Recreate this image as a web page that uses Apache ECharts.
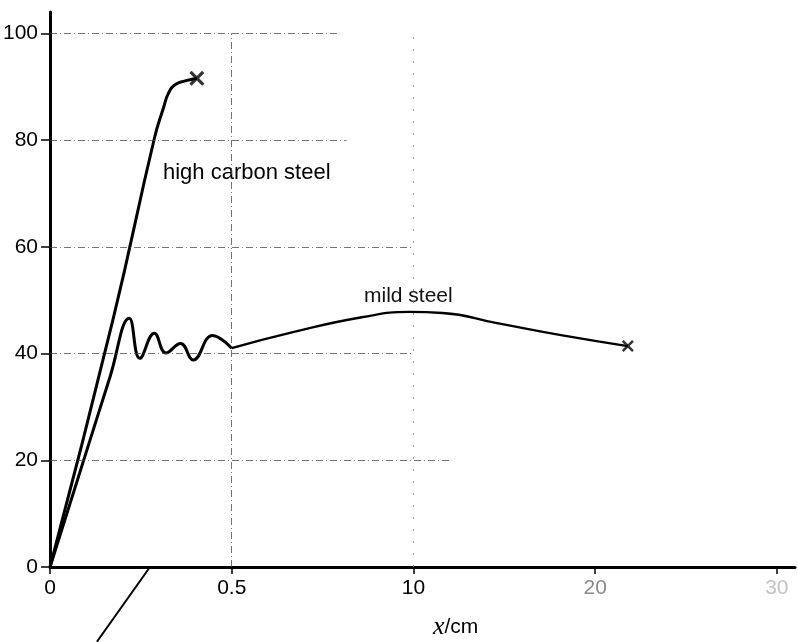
<!DOCTYPE html>
<html><head><meta charset="utf-8">
<script src="https://cdn.jsdelivr.net/npm/echarts@6/dist/echarts.min.js"></script>
<style>html,body{margin:0;padding:0;background:#fff}#c{width:798px;height:642px}</style>
</head><body><div id="c"></div>
<script>
// ---- data ----
const xTickValues = [0, 0.5, 10, 20, 30];          // broken x scale (cm)
const xTickLabels = ['0', '0.5', '10', '20', '30'];
const yTickValues = [0, 20, 40, 60, 80, 100];
const highCarbonX = [0, 0.173, 0.287, 0.312, 0.326, 0.345, 0.372, 0.404];
const highCarbonY = [0, 46.3, 80.3, 86.0, 88.8, 90.4, 91.1, 91.6];
const mildX = [0, 0.165, 0.218, 0.247, 0.287, 0.319, 0.359, 0.394, 0.447, 0.5, 3.7, 7.3, 9.8, 11.6, 14.6, 18.2, 21.8];
const mildY = [0, 35.6, 46.6, 39.1, 43.8, 40.1, 41.9, 38.8, 43.4, 41.0, 44.0, 46.8, 47.8, 47.6, 45.7, 43.4, 41.4];
const seriesNames = ['high carbon steel', 'mild steel'];
const axisTitle = ['x', '/cm'];

// piecewise axis scale: each labelled interval takes one unit
function toPos(v) {
  const n = xTickValues.length;
  for (let i = 0; i < n - 1; i++) {
    const a = xTickValues[i], b = xTickValues[i + 1];
    if (v <= b || i === n - 2) return i + (v - a) / (b - a);
  }
}
const pts = (xs, ys) => xs.map((x, i) => [toPos(x), ys[i]]);
const hc = pts(highCarbonX, highCarbonY);
const mild = pts(mildX, mildY);
const split = mildX.indexOf(0.5);
const mildOsc = mild.slice(0, split + 1);
const mildTail = mild.slice(split);

const FONT = '"Liberation Sans", Arial, sans-serif';
const crossPath = 'path://M0,1.5L1.5,0L5,3.5L8.5,0L10,1.5L6.5,5L10,8.5L8.5,10L5,6.5L1.5,10L0,8.5L3.5,5Z';
const gridStyle = { color: '#444', width: 1, type: [7, 3, 1, 3], opacity: 0.75 };
const hLine = (y, xEnd) => [{ coord: [0, y] }, { coord: [toPos(xEnd), y] }];

const chart = echarts.init(document.getElementById('c'), null, { renderer: 'canvas' });
chart.setOption({
  animation: false,
  backgroundColor: '#fff',
  grid: { left: 50, right: 3, top: 12, bottom: 75, containLabel: false },
  xAxis: {
    type: 'value', min: 0, max: 4.1,
    axisLine: { lineStyle: { color: '#000', width: 3 } },
    axisTick: { customValues: xTickValues.map((v, i) => i), length: 7, lineStyle: { color: '#000', width: 1.5 } },
    axisLabel: {
      customValues: xTickValues.map((v, i) => i), margin: 11, fontSize: 21, fontFamily: FONT, color: '#000',
      formatter: v => {
        const i = Math.round(v);
        const t = xTickLabels[i];
        return i === 3 ? '{g|' + t + '}' : i === 4 ? '{h|' + t + '}' : t;
      },
      rich: { g: { color: '#8a8a8a', fontSize: 21, fontFamily: FONT }, h: { color: '#c4c4c4', fontSize: 21, fontFamily: FONT } }
    },
    splitLine: { show: false }
  },
  yAxis: {
    type: 'value', min: 0, max: 104,
    axisLine: { lineStyle: { color: '#000', width: 3 } },
    axisTick: { customValues: yTickValues, length: 9, lineStyle: { color: '#000', width: 1.5 } },
    axisLabel: { customValues: yTickValues, margin: 12, fontSize: 21, fontFamily: FONT, color: '#000' },
    splitLine: { show: false }
  },
  series: [
    {
      type: 'line', name: 'grid', data: [], silent: true, z: 1,
      markLine: {
        silent: true, symbol: ['none', 'none'], label: { show: false },
        lineStyle: gridStyle,
        data: [
          hLine(100, 6), hLine(80, 6.5), hLine(60, 10), hLine(40, 10), hLine(20, 12),
          [{ coord: [toPos(0.5), 0] }, { coord: [toPos(0.5), 100] }],
          [{ coord: [toPos(10), 0], lineStyle: { color: '#777', type: [2, 10], width: 1 } },
           { coord: [toPos(10), 100] }]
        ]
      }
    },
    {
      type: 'line', name: seriesNames[0], data: hc, smooth: 0.5, showSymbol: false, z: 3,
      lineStyle: { color: '#000', width: 3 }
    },
    {
      type: 'line', name: seriesNames[1], data: mildOsc, smooth: 0.45, showSymbol: false, z: 3,
      lineStyle: { color: '#000', width: 3 }
    },
    {
      type: 'line', name: seriesNames[1] + ' tail', data: mildTail, smooth: 0.5, showSymbol: false, z: 3,
      lineStyle: { color: '#000', width: 2.3 }
    },
    {
      type: 'scatter', name: 'fracture', z: 4, symbol: crossPath,
      itemStyle: { color: '#000' },
      data: [
        { value: hc[hc.length - 1], symbolSize: 15 },
        { value: mild[mild.length - 1], symbolSize: 12 }
      ]
    }
  ]
});

// annotations placed after layout
const p = (cm, y) => chart.convertToPixel({ gridIndex: 0 }, [toPos(cm), y]);
const leadA = p(0.275, 0), leadB = p(0.129, -14);
chart.setOption({
  graphic: [
    { type: 'text', x: 163, y: 173, silent: true,
      style: { text: seriesNames[0], font: '22px ' + FONT, fill: '#000', align: 'left', verticalAlign: 'middle' } },
    { type: 'text', x: 364, y: 296, silent: true,
      style: { text: seriesNames[1], font: '21px ' + FONT, fill: '#111', align: 'left', verticalAlign: 'middle' } },
    { type: 'text', x: 433, y: 627, silent: true,
      style: {
        text: '{i|' + axisTitle[0] + '}{n|' + axisTitle[1] + '}', align: 'left', verticalAlign: 'middle', fill: '#000',
        rich: {
          i: { fontStyle: 'italic', fontFamily: '"Liberation Serif", serif', fontSize: 26, fill: '#000' },
          n: { fontFamily: FONT, fontSize: 21, fill: '#000' }
        }
      } },
    { type: 'line', silent: true,
      shape: { x1: leadA[0], y1: leadA[1], x2: leadB[0], y2: leadB[1] },
      style: { stroke: '#000', lineWidth: 2 } }
  ]
});
</script>
</body></html>
